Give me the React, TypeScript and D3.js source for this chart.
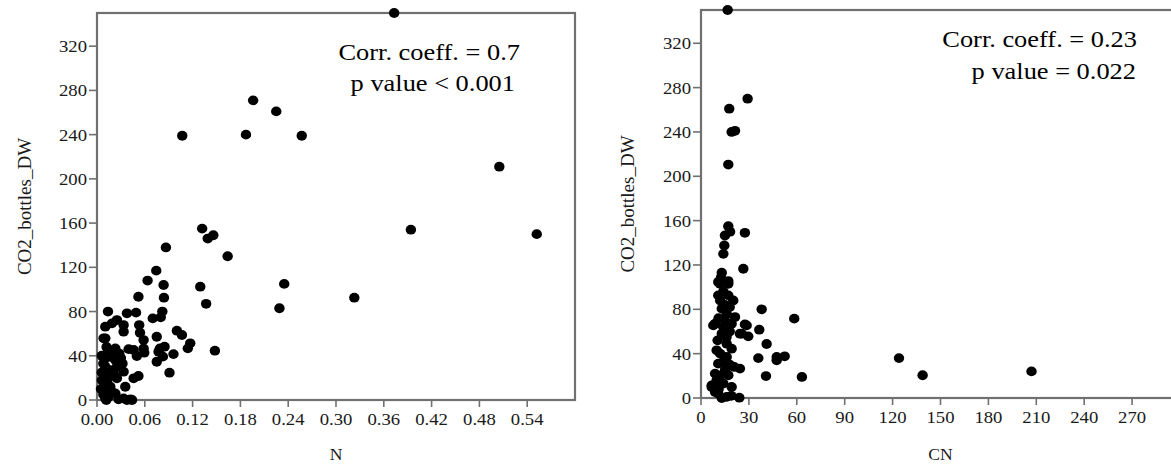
import React from "react";
import * as d3 from "d3";

// ---- Data ----
const yTickValues = [0, 40, 80, 120, 160, 200, 240, 280, 320];
const xTicksN = [0, 0.06, 0.12, 0.18, 0.24, 0.3, 0.36, 0.42, 0.48, 0.54];
const xTicksCN = [0, 30, 60, 90, 120, 150, 180, 210, 240, 270];

// N vs CO2_bottles_DW
const nValues: number[] = [
  0.373, 0.552, 0.505, 0.394, 0.323, 0.257, 0.235, 0.229, 0.107, 0.187, 0.196, 0.225,
  0.132, 0.139, 0.146, 0.164, 0.0865, 0.0744, 0.0635, 0.0836, 0.1296, 0.137, 0.148,
  0.052, 0.084,
  0.0138, 0.0376, 0.049, 0.082, 0.080, 0.070, 0.025, 0.0188, 0.0334, 0.053, 0.0104,
  0.0334, 0.054, 0.1003, 0.1066, 0.0104, 0.0585, 0.075, 0.117, 0.114, 0.079, 0.0585,
  0.046, 0.023, 0.0397, 0.096, 0.0773, 0.0848, 0.0827, 0.075, 0.091, 0.0593, 0.050,
  0.0104, 0.023, 0.032, 0.0104, 0.025, 0.0334, 0.0104, 0.021, 0.025, 0.046, 0.052,
  0.0104, 0.0355, 0.0104, 0.023, 0.0104, 0.027, 0.0334, 0.042, 0.0376, 0.044, 0.0117,
  0.0167, 0.0167, 0.0167, 0.0146, 0.005, 0.006, 0.006, 0.0083, 0.008, 0.013, 0.008,
  0.018, 0.006, 0.014, 0.012, 0.028, 0.030, 0.020,
];
const co2N: number[] = [
  350, 150, 211, 154, 92.5, 239, 105, 83, 239, 240, 271, 261,
  155, 146, 149, 130, 138, 117, 108, 104, 102.5, 87, 44.6,
  93.4, 92.5,
  80, 78.4, 79, 80, 74.8, 73.8, 72.3, 69.3, 67.8, 67.8, 66.3,
  61.8, 60.8, 62.7, 58.8, 55.8, 54.2, 57.2, 51.3, 46.7, 46.7, 46.7,
  45.2, 46.7, 46, 41.5, 43.7, 48.2, 39.2, 34.6, 24.7, 42.8, 39.8,
  37.7, 36.2, 33, 30, 30, 25.6, 22.6, 24, 19.6, 19.6, 21.7,
  15, 12, 7.5, 6, 1.5, 0.6, 1.5, 0.6, 0, 0, 0,
  39, 27, 12, 3, 10, 25, 40, 55.8, 33, 18, 5,
  8, 18, 44, 48, 42, 38, 42,
];

// CN vs CO2_bottles_DW
const cnValues: number[] = [
  16.7, 29.2, 17.7, 19.2, 21.3, 17.1, 17.1, 18.2, 15, 27.5, 14.6, 14, 26.5, 12.5,
  17.1, 10.8, 11.9, 17.1, 10.8, 17.1, 20.2, 38, 58.4, 13, 16.1, 21.3, 19.2, 8.8,
  14, 27.5, 25.5, 29.6, 36.5, 41.1, 10.4, 13, 16.1, 19.2, 9.8, 35.9, 47.4, 52.4,
  47.4, 40.7, 63.2, 24.4, 20.8, 16.1, 10.8, 15, 8.8, 17.1, 6.7, 10.8, 16.1, 24,
  9.8, 14, 8.8, 13, 19.2, 28.6, 24.4, 124, 138.8, 207, 7.7, 6.7, 12, 14, 18, 11,
  15, 18, 12, 14, 18, 11, 19, 12, 16, 13, 15,
];
const co2CN: number[] = [
  350, 270, 261, 240, 241, 210.6, 155, 150, 146.6, 149, 137.6, 130, 116.6, 108.5,
  105.5, 104.6, 103, 103, 92.6, 92.6, 88, 80, 71.6, 80.6, 76, 73, 67, 67,
  64, 66.4, 58, 55.6, 61.6, 48.7, 52, 58, 49, 44.5, 43, 36, 34, 37.6,
  37, 19.8, 19, 26.5, 28, 37, 31, 25, 22, 20.5, 10, 4, 1, 0.3,
  16, 13, 5.4, 0, 10, 65.5, 58, 36, 20.5, 24, 65.5, 11.4, 88, 96, 82, 72,
  70, 60, 40, 33, 30, 8, 2, 20, 55, 113, 84,
];

const FONT = "'Liberation Serif', 'Times New Roman', serif";
const FRAME = "#707070";
const TEXT = "#1a1a1a";

type PanelProps = {
  xs: number[];
  ys: number[];
  xDomain: [number, number];
  xRange: [number, number];
  yRange: [number, number];
  xTicks: number[];
  xFmt: (v: number) => string;
  xLabel: string;
  yLabelX: number;
  ann1: string;
  ann2: string;
  ann1Pos: [number, number];
  ann2Pos: [number, number];
};

function Panel(p: PanelProps) {
  const x = d3.scaleLinear().domain(p.xDomain).range(p.xRange);
  const y = d3.scaleLinear().domain([0, 350]).range(p.yRange);
  const [x0, x1] = p.xRange;
  const [yb, yt] = p.yRange;
  const pts = p.xs.map((v, i) => [v, p.ys[i]] as [number, number]);
  return (
    <g>
      <rect x={x0} y={yt} width={x1 - x0} height={yb - yt} fill="none" stroke={FRAME} strokeWidth={2.2} />
      {yTickValues.map((t) => (
        <g key={"y" + t}>
          <line x1={x0 - 8} x2={x0} y1={y(t)} y2={y(t)} stroke={FRAME} strokeWidth={1.6} />
          <text
            transform={`translate(${x0 - 10},${y(t) + 6}) scale(1.1,1)`}
            textAnchor="end"
            fontFamily={FONT}
            fontSize={17}
            fill={TEXT}
          >
            {t}
          </text>
        </g>
      ))}
      {p.xTicks.map((t) => (
        <g key={"x" + t}>
          <line x1={x(t)} x2={x(t)} y1={yb} y2={yb + 7} stroke={FRAME} strokeWidth={1.6} />
          <text
            transform={`translate(${x(t)},${yb + 25}) scale(1.1,1)`}
            textAnchor="middle"
            fontFamily={FONT}
            fontSize={17}
            fill={TEXT}
          >
            {p.xFmt(t)}
          </text>
        </g>
      ))}
      <text
        transform={`translate(${(x0 + x1) / 2},460) scale(1.1,1)`}
        textAnchor="middle"
        fontFamily={FONT}
        fontSize={16}
        fill={TEXT}
      >
        {p.xLabel}
      </text>
      <text
        transform={`translate(${p.yLabelX},${(yb + yt) / 2}) rotate(-90)`}
        textAnchor="middle"
        fontFamily={FONT}
        fontSize={19}
        fill={TEXT}
      >
        CO2_bottles_DW
      </text>
      {pts.map((d, i) => (
        <ellipse key={i} cx={x(d[0])} cy={y(d[1])} rx={5.2} ry={4.9} fill="#000" />
      ))}
      <text
        transform={`translate(${p.ann1Pos[0]},${p.ann1Pos[1]}) scale(1.1,1)`}
        textAnchor="end"
        fontFamily={FONT}
        fontSize={24}
        fill="#000"
      >
        {p.ann1}
      </text>
      <text
        transform={`translate(${p.ann2Pos[0]},${p.ann2Pos[1]}) scale(1.1,1)`}
        textAnchor="end"
        fontFamily={FONT}
        fontSize={24}
        fill="#000"
      >
        {p.ann2}
      </text>
    </g>
  );
}

export default function App() {
  return (
    <svg
      width={1171}
      height={464}
      style={{ position: "absolute", left: 0, top: 0, background: "#fff" }}
    >
      <rect x={0} y={0} width={1171} height={464} fill="#fff" />
      <Panel
        xs={nValues}
        ys={co2N}
        xDomain={[0, 0.6]}
        xRange={[97, 575]}
        yRange={[400, 13]}
        xTicks={xTicksN}
        xFmt={(v) => v.toFixed(2)}
        xLabel="N"
        yLabelX={31}
        ann1="Corr. coeff. = 0.7"
        ann2="p value < 0.001"
        ann1Pos={[520, 60]}
        ann2Pos={[515, 91]}
      />
      <Panel
        xs={cnValues}
        ys={co2CN}
        xDomain={[0, 300]}
        xRange={[701, 1180]}
        yRange={[398, 10]}
        xTicks={xTicksCN}
        xFmt={(v) => String(v)}
        xLabel="CN"
        yLabelX={634}
        ann1="Corr. coeff. = 0.23"
        ann2="p value = 0.022"
        ann1Pos={[1137, 47]}
        ann2Pos={[1136, 79]}
      />
    </svg>
  );
}
